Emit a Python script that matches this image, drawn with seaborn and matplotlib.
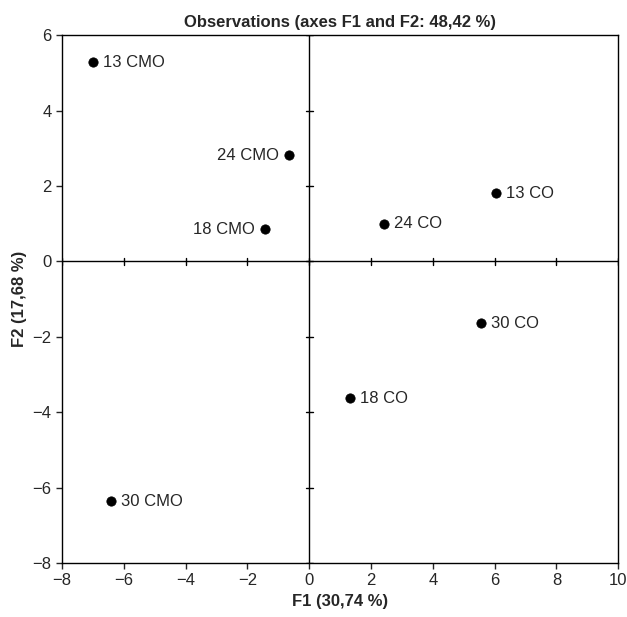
import matplotlib
matplotlib.use("Agg")
import matplotlib.pyplot as plt
import seaborn as sns
import pandas as pd

sns.set_style("white")
plt.rcParams['font.family'] = ['Liberation Sans', 'DejaVu Sans']

obs = pd.DataFrame({
    'label': ['13 CMO', '24 CMO', '18 CMO', '13 CO', '24 CO', '30 CO', '18 CO', '30 CMO'],
    'F1': [-7.0, -0.65, -1.43, 6.05, 2.42, 5.56, 1.32, -6.41],
    'F2': [5.28, 2.82, 0.85, 1.81, 1.0, -1.64, -3.63, -6.36],
    'side': ['r', 'l', 'l', 'r', 'r', 'r', 'r', 'r'],
})

fig = plt.figure(figsize=(6.27, 6.17), dpi=100)
ax = fig.add_axes([0.099, 0.0875, 0.887, 0.8555])

ax.axhline(0, color='black', lw=1)
ax.axvline(0, color='black', lw=1)
sns.scatterplot(data=obs, x='F1', y='F2', color='black', s=45, edgecolor='black', ax=ax, zorder=3)
for _, r in obs.iterrows():
    if r['side'] == 'r':
        ax.annotate(r['label'], (r['F1'], r['F2']), xytext=(7, 0), textcoords='offset points',
                    va='center', ha='left', fontsize=12)
    else:
        ax.annotate(r['label'], (r['F1'], r['F2']), xytext=(-7, 0), textcoords='offset points',
                    va='center', ha='right', fontsize=12)

ax.set_xlim(-8, 10)
ax.set_ylim(-8, 6)
ax.set_xticks(range(-8, 11, 2))
ax.set_yticks(range(-8, 7, 2))
ax.set_xticklabels([str(v).replace('-', '\u2212') for v in range(-8, 11, 2)])
ax.set_yticklabels([str(v).replace('-', '\u2212') for v in range(-8, 7, 2)])
ax.tick_params(axis='both', labelsize=12, direction='out', length=4, width=1, bottom=True, left=True)
# small ticks on the centre lines
for v in range(-8, 11, 2):
    ax.plot([v, v], [-0.1, 0.1], color='black', lw=1)
for v in range(-8, 7, 2):
    ax.plot([-0.12, 0.12], [v, v], color='black', lw=1)
for s in ax.spines.values():
    s.set_color('black')
    s.set_linewidth(1)

ax.set_xlabel('F1 (30,74 %)', fontsize=12, fontweight='bold')
ax.set_ylabel('F2 (17,68 %)', fontsize=12, fontweight='bold')
ax.set_title('Observations (axes F1 and F2: 48,42 %)', fontsize=12, fontweight='bold', pad=6)

fig.savefig('out.png', dpi=100)
